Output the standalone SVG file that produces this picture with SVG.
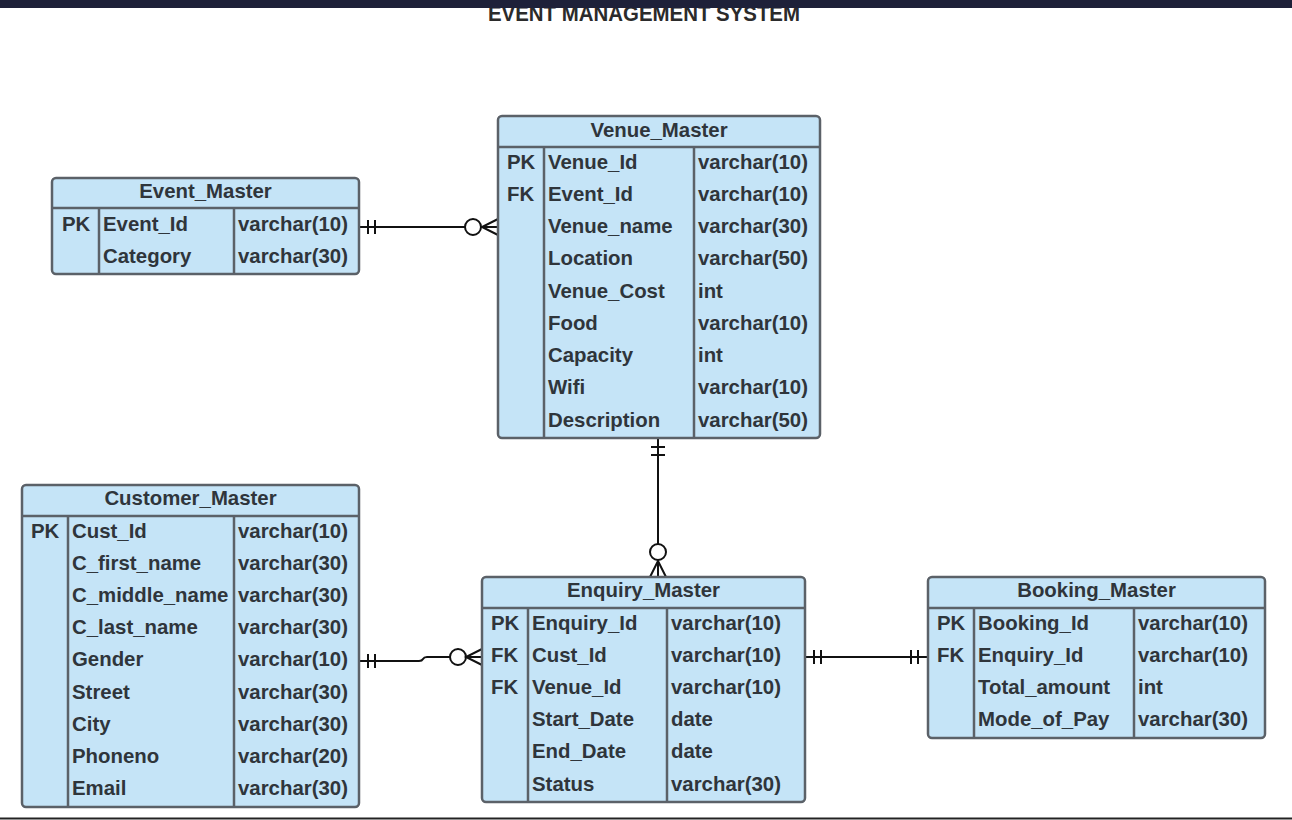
<svg xmlns="http://www.w3.org/2000/svg" width="1292" height="820" viewBox="0 0 1292 820">
<style>
.box{fill:#c5e4f7;stroke:#5b6168;stroke-width:2.5}
.div{stroke:#5b6168;stroke-width:2.5}
text{font-family:"Liberation Sans",Arial,sans-serif;font-weight:bold;font-size:20.4px;fill:#2f353b}
.hdr{text-anchor:middle}
.title{font-size:22px;fill:#2b2b2b}
.conn{fill:none;stroke:#111;stroke-width:2}
.circ{fill:#fff;stroke:#111;stroke-width:2}
</style>
<rect x="0" y="0" width="1292" height="820" fill="#fff"/>
<text class="title" x="488" y="21" textLength="312" lengthAdjust="spacingAndGlyphs">EVENT MANAGEMENT SYSTEM</text>
<rect x="0" y="0" width="1292" height="8" fill="#1e2139"/>
<line x1="0" y1="818.5" x2="1292" y2="818.5" stroke="#222" stroke-width="2"/>

<g id="connectors">
  <!-- Event_Master - Venue_Master -->
  <path class="conn" d="M359,227 H465"/>
  <path class="conn" d="M368,220 V234 M375,220 V234"/>
  <circle class="circ" cx="473" cy="227" r="8"/>
  <path class="conn" d="M498,219 L482,227 L498,235 M482,227 H498"/>
  <!-- Venue_Master - Enquiry_Master -->
  <path class="conn" d="M658,438 V544"/>
  <path class="conn" d="M651,447 H665 M651,455 H665"/>
  <circle class="circ" cx="658" cy="552" r="8"/>
  <path class="conn" d="M650,577 L658,561 L666,577 M658,561 V577"/>
  <!-- Customer_Master - Enquiry_Master -->
  <path class="conn" d="M359,661 H419 Q422,661 423,659 Q424,657 427,657 H450"/>
  <path class="conn" d="M368,654 V668 M375,654 V668"/>
  <circle class="circ" cx="458" cy="657" r="8"/>
  <path class="conn" d="M482,649 L466,657 L482,665 M466,657 H482"/>
  <!-- Enquiry_Master - Booking_Master -->
  <path class="conn" d="M805,657 H928"/>
  <path class="conn" d="M814,650 V664 M821,650 V664 M911,650 V664 M918,650 V664"/>
</g>

<g id="event_master">
  <rect class="box" x="52" y="178" width="307" height="96" rx="4"/>
  <line class="div" x1="52" y1="208" x2="359" y2="208"/>
  <line class="div" x1="99" y1="208" x2="99" y2="274"/>
  <line class="div" x1="234" y1="208" x2="234" y2="274"/>
  <text class="hdr" x="205.5" y="198">Event_Master</text>
  <text x="62" y="231">PK</text><text x="103" y="231">Event_Id</text><text x="238" y="231">varchar(10)</text>
  <text x="103" y="263">Category</text><text x="238" y="263">varchar(30)</text>
</g>

<g id="venue_master">
  <rect class="box" x="498" y="116" width="322" height="322" rx="4"/>
  <line class="div" x1="498" y1="147" x2="820" y2="147"/>
  <line class="div" x1="544" y1="147" x2="544" y2="438"/>
  <line class="div" x1="694" y1="147" x2="694" y2="438"/>
  <text class="hdr" x="659" y="137">Venue_Master</text>
  <text x="507" y="169">PK</text><text x="548" y="169">Venue_Id</text><text x="698" y="169">varchar(10)</text>
  <text x="507" y="201">FK</text><text x="548" y="201">Event_Id</text><text x="698" y="201">varchar(10)</text>
  <text x="548" y="233">Venue_name</text><text x="698" y="233">varchar(30)</text>
  <text x="548" y="265">Location</text><text x="698" y="265">varchar(50)</text>
  <text x="548" y="298">Venue_Cost</text><text x="698" y="298">int</text>
  <text x="548" y="330">Food</text><text x="698" y="330">varchar(10)</text>
  <text x="548" y="362">Capacity</text><text x="698" y="362">int</text>
  <text x="548" y="394">Wifi</text><text x="698" y="394">varchar(10)</text>
  <text x="548" y="427">Description</text><text x="698" y="427">varchar(50)</text>
</g>

<g id="customer_master">
  <rect class="box" x="22" y="485" width="337" height="322" rx="4"/>
  <line class="div" x1="22" y1="516" x2="359" y2="516"/>
  <line class="div" x1="68" y1="516" x2="68" y2="807"/>
  <line class="div" x1="234" y1="516" x2="234" y2="807"/>
  <text class="hdr" x="190.5" y="505">Customer_Master</text>
  <text x="31" y="538">PK</text><text x="72" y="538">Cust_Id</text><text x="238" y="538">varchar(10)</text>
  <text x="72" y="570">C_first_name</text><text x="238" y="570">varchar(30)</text>
  <text x="72" y="602">C_middle_name</text><text x="238" y="602">varchar(30)</text>
  <text x="72" y="634">C_last_name</text><text x="238" y="634">varchar(30)</text>
  <text x="72" y="666">Gender</text><text x="238" y="666">varchar(10)</text>
  <text x="72" y="699">Street</text><text x="238" y="699">varchar(30)</text>
  <text x="72" y="731">City</text><text x="238" y="731">varchar(30)</text>
  <text x="72" y="763">Phoneno</text><text x="238" y="763">varchar(20)</text>
  <text x="72" y="795">Email</text><text x="238" y="795">varchar(30)</text>
</g>

<g id="enquiry_master">
  <rect class="box" x="482" y="577" width="323" height="225" rx="4"/>
  <line class="div" x1="482" y1="608" x2="805" y2="608"/>
  <line class="div" x1="528" y1="608" x2="528" y2="802"/>
  <line class="div" x1="667" y1="608" x2="667" y2="802"/>
  <text class="hdr" x="643.5" y="597">Enquiry_Master</text>
  <text x="491" y="630">PK</text><text x="532" y="630">Enquiry_Id</text><text x="671" y="630">varchar(10)</text>
  <text x="491" y="662">FK</text><text x="532" y="662">Cust_Id</text><text x="671" y="662">varchar(10)</text>
  <text x="491" y="694">FK</text><text x="532" y="694">Venue_Id</text><text x="671" y="694">varchar(10)</text>
  <text x="532" y="726">Start_Date</text><text x="671" y="726">date</text>
  <text x="532" y="758">End_Date</text><text x="671" y="758">date</text>
  <text x="532" y="791">Status</text><text x="671" y="791">varchar(30)</text>
</g>

<g id="booking_master">
  <rect class="box" x="928" y="577" width="337" height="161" rx="4"/>
  <line class="div" x1="928" y1="608" x2="1265" y2="608"/>
  <line class="div" x1="974" y1="608" x2="974" y2="738"/>
  <line class="div" x1="1134" y1="608" x2="1134" y2="738"/>
  <text class="hdr" x="1096.5" y="597">Booking_Master</text>
  <text x="937" y="630">PK</text><text x="978" y="630">Booking_Id</text><text x="1138" y="630">varchar(10)</text>
  <text x="937" y="662">FK</text><text x="978" y="662">Enquiry_Id</text><text x="1138" y="662">varchar(10)</text>
  <text x="978" y="694">Total_amount</text><text x="1138" y="694">int</text>
  <text x="978" y="726">Mode_of_Pay</text><text x="1138" y="726">varchar(30)</text>
</g>
</svg>
